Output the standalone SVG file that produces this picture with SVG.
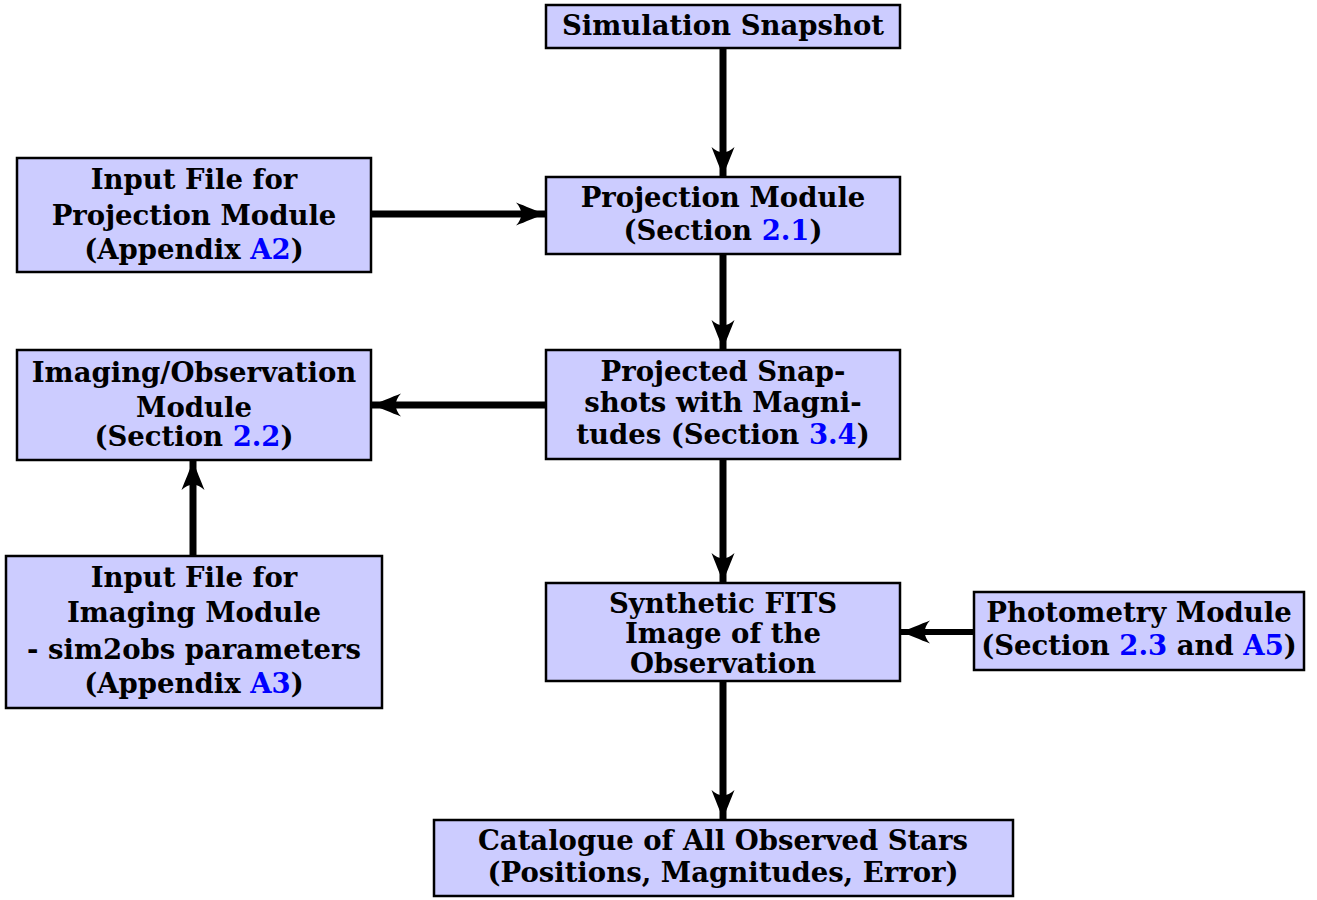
<svg xmlns="http://www.w3.org/2000/svg" width="1317" height="900" viewBox="0 0 1317 900">
<style>
.box{fill:#ccccff;stroke:#000;stroke-width:2.5}
.t{font-family:"DejaVu Serif","Liberation Serif",serif;font-weight:bold;font-size:27.5px;fill:#000;text-anchor:middle}
.b{fill:#0000ff}
.c{stroke:#000;stroke-width:7;fill:none}
</style>
<defs>
<marker id="ah" markerUnits="userSpaceOnUse" viewBox="-31 -13 33 26" refX="0" refY="0" markerWidth="33" markerHeight="26" orient="auto">
<path d="M0,0 C-8,-3 -20,-8 -29,-11.5 C-22,-4 -22,4 -29,11.5 C-20,8 -8,3 0,0 Z" fill="#000"/>
</marker>
</defs>
<rect width="1317" height="900" fill="#fff"/>
<g id="connectors">
<line class="c" x1="723" y1="48" x2="723" y2="176" marker-end="url(#ah)"/>
<line class="c" x1="371" y1="214" x2="545" y2="214" marker-end="url(#ah)"/>
<line class="c" x1="723" y1="254" x2="723" y2="349" marker-end="url(#ah)"/>
<line class="c" x1="546" y1="405" x2="372" y2="405" marker-end="url(#ah)"/>
<line class="c" x1="193" y1="556" x2="193" y2="461" marker-end="url(#ah)"/>
<line class="c" x1="723" y1="459" x2="723" y2="582" marker-end="url(#ah)"/>
<line class="c" x1="974" y1="632" x2="901" y2="632" style="stroke-width:6" marker-end="url(#ah)"/>
<line class="c" x1="723" y1="681" x2="723" y2="819" marker-end="url(#ah)"/>
</g>
<g id="n1"><rect class="box" x="546" y="5" width="354" height="43"/>
<text class="t" x="723" y="35">Simulation Snapshot</text></g>
<g id="n2"><rect class="box" x="546" y="177" width="354" height="77"/>
<text class="t" x="723" y="207">Projection Module</text>
<text class="t" x="723" y="240">(Section <tspan class="b">2.1</tspan>)</text></g>
<g id="n3"><rect class="box" x="17" y="158" width="354" height="114"/>
<text class="t" x="194" y="189">Input File for</text>
<text class="t" x="194" y="225">Projection Module</text>
<text class="t" x="194" y="259">(Appendix <tspan class="b">A2</tspan>)</text></g>
<g id="n4"><rect class="box" x="546" y="350" width="354" height="109"/>
<text class="t" x="723" y="381">Projected Snap-</text>
<text class="t" x="723" y="412">shots with Magni-</text>
<text class="t" x="723" y="444">tudes (Section <tspan class="b">3.4</tspan>)</text></g>
<g id="n5"><rect class="box" x="17" y="350" width="354" height="110"/>
<text class="t" x="194" y="382">Imaging/Observation</text>
<text class="t" x="194" y="417">Module</text>
<text class="t" x="194" y="446">(Section <tspan class="b">2.2</tspan>)</text></g>
<g id="n6"><rect class="box" x="6" y="556" width="376" height="152"/>
<text class="t" x="194" y="587">Input File for</text>
<text class="t" x="194" y="622">Imaging Module</text>
<text class="t" x="194" y="659">- sim2obs parameters</text>
<text class="t" x="194" y="693">(Appendix <tspan class="b">A3</tspan>)</text></g>
<g id="n7"><rect class="box" x="546" y="583" width="354" height="98"/>
<text class="t" x="723" y="613">Synthetic FITS</text>
<text class="t" x="723" y="643">Image of the</text>
<text class="t" x="723" y="673">Observation</text></g>
<g id="n8"><rect class="box" x="974" y="592" width="330" height="78"/>
<text class="t" x="1139" y="622">Photometry Module</text>
<text class="t" x="1139" y="655">(Section <tspan class="b">2.3</tspan> and <tspan class="b">A5</tspan>)</text></g>
<g id="n9"><rect class="box" x="434" y="820" width="579" height="76"/>
<text class="t" x="723" y="850">Catalogue of All Observed Stars</text>
<text class="t" x="723" y="882">(Positions, Magnitudes, Error)</text></g>
</svg>
